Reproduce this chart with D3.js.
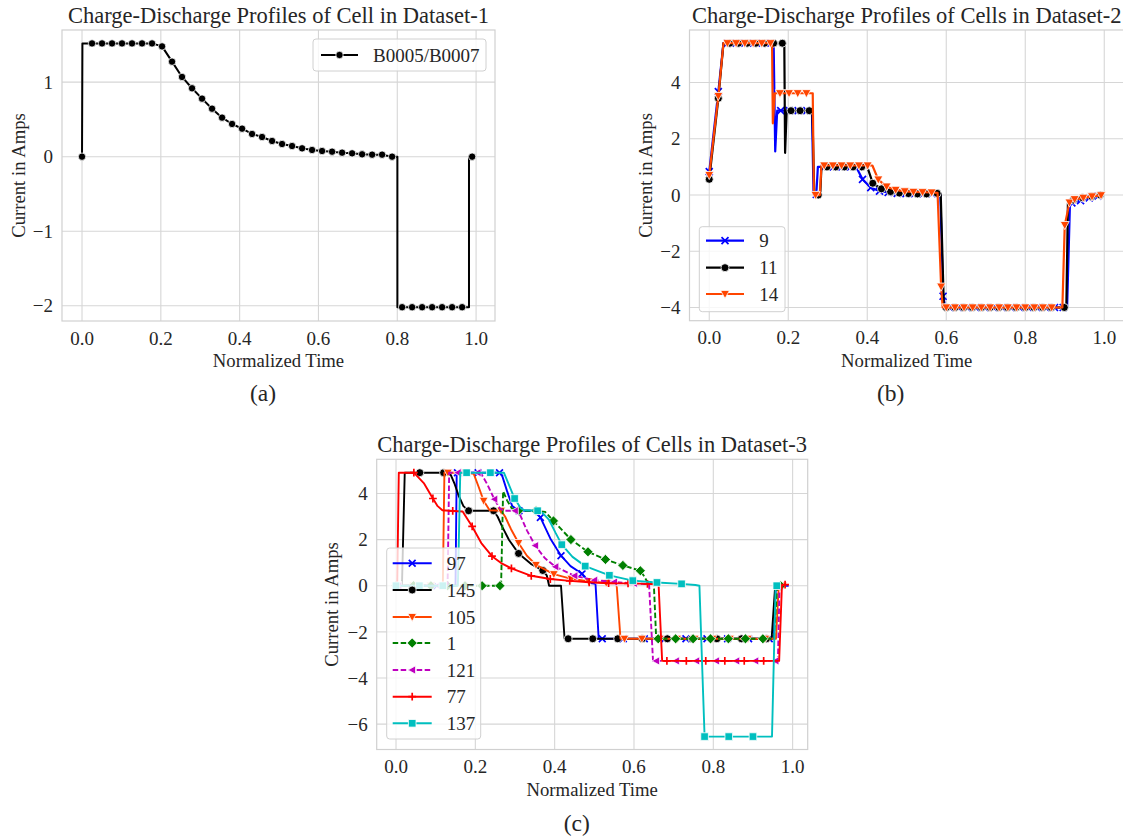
<!DOCTYPE html>
<html>
<head>
<meta charset="utf-8">
<script src="https://cdn.jsdelivr.net/npm/d3@7"></script>
<style>
  body { margin: 0; background: #fff; }
  text { font-family: "Liberation Serif", "Times New Roman", serif; fill: #262626; }
</style>
</head>
<body>
<div id="fig"></div>
<script>
// ---- data: [normalized time, current, marker?] ----
var cellB0005 = [
  [0,0,1],[0.001,1.52],[0.0254,1.52,1],[0.0508,1.52,1],[0.0762,1.52,1],[0.1015,1.52,1],
  [0.1269,1.52,1],[0.1523,1.52,1],[0.1777,1.52,1],[0.2031,1.48,1],[0.2285,1.275,1],
  [0.2538,1.07,1],[0.2792,0.918,1],[0.3046,0.779,1],[0.33,0.644,1],[0.3554,0.524,1],
  [0.3808,0.439,1],[0.4062,0.376,1],[0.4315,0.305,1],[0.4569,0.264,1],[0.4823,0.211,1],
  [0.5077,0.17,1],[0.5331,0.143,1],[0.5585,0.112,1],[0.5838,0.09,1],[0.6092,0.076,1],
  [0.6346,0.067,1],[0.66,0.054,1],[0.6854,0.045,1],[0.7108,0.032,1],[0.7362,0.027,1],
  [0.7615,0.027,1],[0.7869,0,1],[0.8003,0],[0.8003,-2.02],[0.8123,-2.02,1],[0.8377,-2.02,1],
  [0.8631,-2.02,1],[0.8885,-2.02,1],[0.9138,-2.02,1],[0.9392,-2.02,1],[0.9646,-2.02,1],
  [0.982,-2.02],[0.982,0],[0.99,0,1]
];

var cell9 = [
  [0,0.83,1],[0.023,3.68,1],[0.036,5.4],[0.046,5.4,1],[0.068,5.4,1],[0.09,5.4,1],[0.112,5.4,1],
  [0.134,5.4,1],[0.156,5.4,1],[0.163,5.4],[0.167,1.55],[0.172,3.0],[0.181,3.0,1],[0.203,3.0,1],
  [0.225,3.0,1],[0.247,3.0,1],[0.26,3.0],[0.264,0.05],[0.271,0.02,1],[0.275,1.0],[0.292,1.0,1],
  [0.314,1.0,1],[0.336,1.0,1],[0.358,1.0,1],[0.372,1.0],[0.388,0.56,1],[0.409,0.26,1],
  [0.431,0.14,1],[0.453,0.09,1],[0.476,0.06,1],[0.498,0.05,1],[0.52,0.05,1],[0.542,0.05,1],
  [0.564,0.05,1],[0.585,0.04],[0.592,-3.6,1],[0.598,-4.0],[0.608,-4,1],[0.63,-4,1],[0.652,-4,1],
  [0.674,-4,1],[0.697,-4,1],[0.719,-4,1],[0.741,-4,1],[0.763,-4,1],[0.785,-4,1],[0.807,-4,1],
  [0.829,-4,1],[0.851,-4,1],[0.874,-4,1],[0.896,-4,1],[0.906,-4.0],[0.913,-0.4],[0.918,-0.28,1],
  [0.94,-0.2,1],[0.962,-0.1,1],[0.984,-0.04,1]
];
var cell11 = [
  [0,0.56,1],[0.023,3.44,1],[0.036,5.4],[0.052,5.4,1],[0.074,5.4,1],[0.096,5.4,1],[0.118,5.4,1],
  [0.14,5.4,1],[0.163,5.4,1],[0.185,5.4,1],[0.19,5.4],[0.192,1.5],[0.196,3.0],[0.207,3.0,1],
  [0.23,3.0,1],[0.253,3.0,1],[0.261,3.0],[0.266,0],[0.276,0,1],[0.281,0.02],[0.284,1.0],
  [0.298,1.0,1],[0.32,1.0,1],[0.342,1.0,1],[0.364,1.0,1],[0.386,1.0,1],[0.4,1.0],[0.414,0.42,1],
  [0.436,0.22,1],[0.459,0.12,1],[0.481,0.07,1],[0.504,0.05,1],[0.527,0.04,1],[0.55,0.04,1],
  [0.577,0.06,1],[0.586,0.05],[0.594,-4.0],[0.6,-4,1],[0.622,-4,1],[0.644,-4,1],[0.666,-4,1],
  [0.689,-4,1],[0.711,-4,1],[0.733,-4,1],[0.755,-4,1],[0.777,-4,1],[0.8,-4,1],[0.822,-4,1],
  [0.844,-4,1],[0.866,-4,1],[0.899,-4,1],[0.904,-4],[0.908,-0.3],[0.922,-0.18,1],
  [0.945,-0.1,1],[0.968,-0.05,1],[0.99,0,1]
];
var cell14 = [
  [0,0.71,1],[0.023,3.52,1],[0.036,5.4],[0.046,5.4,1],[0.068,5.4,1],[0.09,5.4,1],[0.111,5.4,1],
  [0.133,5.4,1],[0.155,5.4,1],[0.159,5.4],[0.161,2.55],[0.166,3.62],[0.179,3.62,1],[0.202,3.62,1],
  [0.224,3.62,1],[0.246,3.62,1],[0.262,3.62],[0.265,0],[0.269,0,1],[0.28,0],[0.284,1.05],
  [0.291,1.05,1],[0.313,1.05,1],[0.335,1.05,1],[0.357,1.05,1],[0.379,1.05,1],[0.401,1.05,1],
  [0.413,1.05],[0.428,0.55,1],[0.449,0.3,1],[0.472,0.18,1],[0.495,0.13,1],[0.517,0.11,1],
  [0.54,0.1,1],[0.563,0.09,1],[0.578,0.08],[0.587,-3.26,1],[0.591,-4.0],[0.6,-4,1],[0.622,-4,1],
  [0.645,-4,1],[0.667,-4,1],[0.689,-4,1],[0.711,-4,1],[0.734,-4,1],[0.756,-4,1],[0.778,-4,1],
  [0.8,-4,1],[0.823,-4,1],[0.845,-4,1],[0.867,-4,1],[0.878,-4],[0.894,-4],[0.9,-1.07,1],
  [0.912,-0.27,1],[0.925,-0.15,1],[0.947,-0.1,1],[0.969,-0.05,1],[0.992,-0.01,1]
];

var cell97 = [
  [0,0,1],[0.052,0,1],[0.103,0,1],[0.15,0],[0.153,4.9],[0.155,4.9,1],[0.207,4.9,1],[0.261,4.9,1],
  [0.268,4.75],[0.28,4.1],[0.293,3.45],[0.31,3.25,1],[0.352,3.25],[0.364,2.96,1],[0.389,2.05],
  [0.416,1.3,1],[0.44,0.85],[0.469,0.52,1],[0.48,0.25],[0.49,0.12],[0.503,0.08],[0.511,-2.3],
  [0.52,-2.3,1],[0.573,-2.3,1],[0.626,-2.3,1],[0.678,-2.3,1],[0.731,-2.3,1],[0.784,-2.3,1],
  [0.836,-2.3,1],[0.889,-2.3,1],[0.941,-2.3,1],[0.952,-2.3],[0.958,0],[0.99,0]
];
var cell145 = [
  [0,0,1],[0.015,0],[0.022,4.9],[0.06,4.9,1],[0.12,4.9,1],[0.138,4.8],[0.148,4.4],[0.158,3.9],
  [0.17,3.45],[0.183,3.25,1],[0.246,3.25,1],[0.256,3.0],[0.268,2.55],[0.285,1.98],[0.309,1.4,1],
  [0.34,0.95],[0.37,0.66,1],[0.38,0.45],[0.386,0],[0.416,0],[0.425,-2.3],[0.434,-2.3,1],
  [0.496,-2.3,1],[0.559,-2.3,1],[0.621,-2.3,1],[0.684,-2.3,1],[0.746,-2.3,1],[0.809,-2.3,1],
  [0.871,-2.3,1],[0.934,-2.3,1],[0.947,-2.3],[0.956,0],[0.97,0]
];
var cell105 = [
  [0,0,1],[0.044,0,1],[0.088,0,1],[0.118,0],[0.122,4.9],[0.131,4.9,1],[0.176,4.9,1],[0.196,4.85],
  [0.208,4.3],[0.221,3.68,1],[0.236,3.27],[0.265,3.25,1],[0.275,3.0],[0.29,2.45],[0.309,1.85,1],
  [0.33,1.3],[0.353,0.9,1],[0.398,0.5,1],[0.442,0.3,1],[0.486,0.18,1],[0.53,0.12,1],[0.556,0.1],
  [0.566,-2.3],[0.576,-2.3,1],[0.62,-2.3,1],[0.665,-2.3,1],[0.709,-2.3,1],[0.753,-2.3,1],
  [0.798,-2.3,1],[0.842,-2.3,1],[0.887,-2.3,1],[0.931,-2.3,1],[0.958,-2.3],[0.965,0],[0.975,0,1]
];
var cell1 = [
  [0,0,1],[0.044,0,1],[0.088,0,1],[0.13,0,1],[0.174,0,1],[0.217,0,1],[0.262,0,1],[0.265,0.05],
  [0.27,4.1],[0.28,3.7],[0.292,3.35],[0.309,3.25,1],[0.353,3.25,1],[0.376,3.2],[0.397,2.81,1],
  [0.441,2.0,1],[0.484,1.47,1],[0.528,1.14,1],[0.572,0.88,1],[0.616,0.65,1],[0.626,0.4],
  [0.634,0.15],[0.65,0.1],[0.656,-2.3],[0.661,-2.3,1],[0.705,-2.3,1],[0.749,-2.3,1],
  [0.793,-2.3,1],[0.838,-2.3,1],[0.881,-2.3,1],[0.925,-2.3,1],[0.953,-2.3],[0.961,0],[0.97,0,1]
];
var cell121 = [
  [0.006,0,1],[0.056,0,1],[0.106,0,1],[0.13,0],[0.134,4.9],[0.156,4.9,1],[0.206,4.9,1],
  [0.215,4.85],[0.23,4.4],[0.248,3.75,1],[0.262,3.35],[0.272,3.25],[0.3,3.25,1],[0.312,3.1],
  [0.33,2.4],[0.351,1.74,1],[0.375,1.2],[0.402,0.82,1],[0.45,0.43,1],[0.5,0.24,1],[0.55,0.16,1],
  [0.6,0.1,1],[0.638,0.07],[0.648,-3.26],[0.656,-3.26,1],[0.706,-3.26,1],[0.757,-3.26,1],
  [0.807,-3.26,1],[0.858,-3.26,1],[0.906,-3.26,1],[0.957,-3.26,1],[0.963,-3.2],[0.967,0]
];
var cell77 = [
  [0,0,1],[0.003,0],[0.007,4.9],[0.045,4.9,1],[0.07,4.45],[0.093,3.78,1],[0.105,3.45],[0.117,3.27],
  [0.143,3.24,1],[0.168,3.22],[0.178,2.95],[0.192,2.57,1],[0.215,1.85],[0.242,1.28,1],[0.265,0.98],
  [0.291,0.75,1],[0.341,0.43,1],[0.389,0.29,1],[0.438,0.21,1],[0.487,0.15,1],[0.536,0.11,1],
  [0.585,0.1,1],[0.634,0.08,1],[0.662,0.05],[0.671,-3.26],[0.683,-3.26,1],[0.732,-3.26,1],
  [0.781,-3.26,1],[0.829,-3.26,1],[0.878,-3.26,1],[0.927,-3.26,1],[0.966,-3.26],[0.973,0],
  [0.981,0.05,1]
];
var cell137 = [
  [0,0,1],[0.059,0,1],[0.118,0,1],[0.156,0],[0.162,4.9],[0.178,4.9,1],[0.238,4.9,1],[0.272,4.9],
  [0.284,4.4],[0.299,3.78,1],[0.315,3.35],[0.325,3.27],[0.357,3.25,1],[0.37,3.15],[0.386,2.85],
  [0.402,2.3],[0.418,1.78,1],[0.445,1.25],[0.477,0.85,1],[0.538,0.45,1],[0.597,0.22,1],
  [0.658,0.14,1],[0.72,0.08,1],[0.755,0.03],[0.765,0],[0.778,-6.54,1],[0.839,-6.54,1],
  [0.9,-6.54,1],[0.948,-6.54],[0.957,0],[0.96,0,1]
];

var timeTicks = [0, 0.2, 0.4, 0.6, 0.8, 1.0];
var ampTicksA = [-2, -1, 0, 1];
var ampTicksB = [-4, -2, 0, 2, 4];
var ampTicksC = [-6, -4, -2, 0, 2, 4];

// ---- figure ----
var W = 1123, H = 838;
var FONT = "'Liberation Serif', 'Times New Roman', serif";
var svg = d3.select("#fig").append("svg")
  .attr("width", W).attr("height", H)
  .style("background", "#fff");

function markerPath(shape, r) {
  if (shape === "o") return d3.symbol(d3.symbolCircle, Math.PI * r * r)();
  if (shape === "s") return "M" + (-r) + "," + (-r) + "H" + r + "V" + r + "H" + (-r) + "Z";
  if (shape === "D") { var d = r * 1.3; return "M0," + (-d) + "L" + d + ",0L0," + d + "L" + (-d) + ",0Z"; }
  if (shape === "v") return "M" + (-r) + "," + (-r * 0.8) + "L" + r + "," + (-r * 0.8) + "L0," + r + "Z";
  if (shape === "<") return "M" + (r * 0.8) + "," + (-r) + "L" + (r * 0.8) + "," + r + "L" + (-r) + ",0Z";
  if (shape === "x") return "M" + (-r) + "," + (-r) + "L" + r + "," + r + "M" + (-r) + "," + r + "L" + r + "," + (-r);
  if (shape === "+") return "M" + (-r) + ",0H" + r + "M0," + (-r) + "V" + r;
}

function drawMarker(g, s, x, y) {
  var open = (s.marker === "x" || s.marker === "+");
  g.append("path")
    .attr("transform", "translate(" + x + "," + y + ")")
    .attr("d", markerPath(s.marker, s.r))
    .attr("fill", open ? "none" : s.color)
    .attr("stroke", open ? s.color : "#fff")
    .attr("stroke-width", open ? 1.7 : 0.8);
}

function label(g, txt, size) {
  return g.append("text").attr("font-family", FONT).style("font-size", size + "px").text(txt);
}

function drawPanel(p, idx) {
  var x = d3.scaleLinear().domain(p.xDomain).range([p.left, p.right]);
  var y = d3.scaleLinear().domain(p.yDomain).range([p.bottom, p.top]);
  var g = svg.append("g");

  // grid
  g.selectAll(".gx").data(p.xTicks).enter().append("line")
    .attr("x1", d => x(d)).attr("x2", d => x(d))
    .attr("y1", p.top).attr("y2", p.bottom)
    .attr("stroke", "#d6d6d6").attr("stroke-width", 1.1);
  g.selectAll(".gy").data(p.yTicks).enter().append("line")
    .attr("x1", p.left).attr("x2", p.right)
    .attr("y1", d => y(d)).attr("y2", d => y(d))
    .attr("stroke", "#d6d6d6").attr("stroke-width", 1.1);

  // tick labels
  p.xTicks.forEach(function(t) {
    label(g, d3.format(".1f")(t), 19)
      .attr("x", x(t)).attr("y", p.bottom + 17).attr("dy", "0.35em")
      .attr("text-anchor", "middle");
  });
  p.yTicks.forEach(function(t) {
    label(g, d3.format("d")(t), 19)
      .attr("x", p.left - 9).attr("y", y(t)).attr("dy", "0.35em")
      .attr("text-anchor", "end");
  });

  // series, clipped to the axes box
  var clipId = "clip" + idx;
  svg.append("clipPath").attr("id", clipId).append("rect")
    .attr("x", p.left).attr("y", p.top)
    .attr("width", p.right - p.left).attr("height", p.bottom - p.top);
  var plot = g.append("g").attr("clip-path", "url(#" + clipId + ")");
  var line = d3.line().x(d => x(d[0])).y(d => y(d[1]));

  p.series.forEach(function(s) {
    plot.append("path")
      .datum(s.data)
      .attr("fill", "none")
      .attr("stroke", s.color)
      .attr("stroke-width", p.lw)
      .attr("stroke-dasharray", s.dash || null)
      .attr("stroke-linejoin", "round")
      .attr("d", line);
    s.data.filter(d => d[2]).forEach(function(d) {
      drawMarker(plot, s, x(d[0]), y(d[1]));
    });
  });

  // frame
  g.append("rect")
    .attr("x", p.left).attr("y", p.top)
    .attr("width", p.right - p.left).attr("height", p.bottom - p.top)
    .attr("fill", "none").attr("stroke", "#d0d0d0").attr("stroke-width", 1.2);

  // legend
  var L = p.legend;
  g.append("rect")
    .attr("x", L.x).attr("y", L.y).attr("width", L.w).attr("height", L.h)
    .attr("rx", 3).attr("fill", "#fff").attr("fill-opacity", 0.8)
    .attr("stroke", "#d0d0d0").attr("stroke-width", 1);
  p.series.forEach(function(s, i) {
    var ry = L.rows[i];
    g.append("line")
      .attr("x1", L.x0).attr("x2", L.x1).attr("y1", ry).attr("y2", ry)
      .attr("stroke", s.color).attr("stroke-width", p.lw)
      .attr("stroke-dasharray", s.dash || null);
    drawMarker(g, s, (L.x0 + L.x1) / 2, ry);
    label(g, s.name, 19).attr("x", L.tx).attr("y", ry).attr("dy", "0.35em");
  });

  // titles and labels
  var cx = (p.left + Math.min(p.right, 1124)) / 2;
  label(g, p.title, 22.5).attr("x", cx).attr("y", p.titleY).attr("dy", "0.35em")
    .attr("text-anchor", "middle");
  label(g, "Normalized Time", 18.7).attr("x", cx).attr("y", p.xlabY).attr("dy", "0.35em")
    .attr("text-anchor", "middle");
  label(g, "Current in Amps", 18.7)
    .attr("transform", "translate(" + p.ylabX + "," + ((p.top + p.bottom) / 2) + ") rotate(-90)")
    .attr("dy", "0.35em").attr("text-anchor", "middle");
  label(g, p.caption, 23.5).attr("x", p.capX).attr("y", p.capY).attr("dy", "0.35em")
    .attr("text-anchor", "middle");
}

var panels = [
  {
    left: 62, right: 495, top: 30, bottom: 321,
    xDomain: [-0.0508, 1.048], yDomain: [-2.205, 1.70],
    xTicks: timeTicks, yTicks: ampTicksA, lw: 2,
    title: "Charge-Discharge Profiles of Cell in Dataset-1",
    titleY: 15, xlabY: 360, ylabX: 18, caption: "(a)", capX: 263, capY: 393,
    series: [
      {name: "B0005/B0007", data: cellB0005, color: "#000", marker: "o", r: 3.7}
    ],
    legend: {x: 313, y: 39, w: 173, h: 32, rows: [55], x0: 321, x1: 358, tx: 373}
  },
  {
    left: 689.5, right: 1124, top: 30, bottom: 320.7,
    xDomain: [-0.05, 1.05], yDomain: [-4.47, 5.87],
    xTicks: timeTicks, yTicks: ampTicksB, lw: 2.2,
    title: "Charge-Discharge Profiles of Cells in Dataset-2",
    titleY: 15, xlabY: 360.7, ylabX: 645, caption: "(b)", capX: 890.7, capY: 392.7,
    series: [
      {name: "9", data: cell9, color: "#0000ff", marker: "x", r: 3.5},
      {name: "11", data: cell11, color: "#000", marker: "o", r: 4.0},
      {name: "14", data: cell14, color: "#ff4500", marker: "v", r: 4.5}
    ],
    legend: {x: 699.3, y: 226.7, w: 85.7, h: 85, rows: [240.7, 267.7, 294], x0: 706, x1: 744, tx: 759.3}
  },
  {
    left: 376.7, right: 807.7, top: 459.3, bottom: 749.5,
    xDomain: [-0.0487, 1.038], yDomain: [-7.1, 5.48],
    xTicks: timeTicks, yTicks: ampTicksC, lw: 1.9,
    title: "Charge-Discharge Profiles of Cells in Dataset-3",
    titleY: 444, xlabY: 789, ylabX: 331.7, caption: "(c)", capX: 576.7, capY: 823,
    series: [
      {name: "97", data: cell97, color: "#0000ff", marker: "x", r: 3.4},
      {name: "145", data: cell145, color: "#000", marker: "o", r: 4.0},
      {name: "105", data: cell105, color: "#ff4500", marker: "v", r: 4.4},
      {name: "1", data: cell1, color: "#008000", marker: "D", r: 3.9, dash: "5.5,2.5"},
      {name: "121", data: cell121, color: "#bf00bf", marker: "<", r: 4.2, dash: "5.5,2.5"},
      {name: "77", data: cell77, color: "#ff0000", marker: "+", r: 3.9},
      {name: "137", data: cell137, color: "#00bfbf", marker: "s", r: 3.8}
    ],
    legend: {x: 386.7, y: 548, w: 94, h: 191,
             rows: [563.3, 590, 617, 643, 670, 696.7, 723.3], x0: 392.7, x1: 431.7, tx: 446.7}
  }
];

panels.forEach(drawPanel);
</script>
</body>
</html>
